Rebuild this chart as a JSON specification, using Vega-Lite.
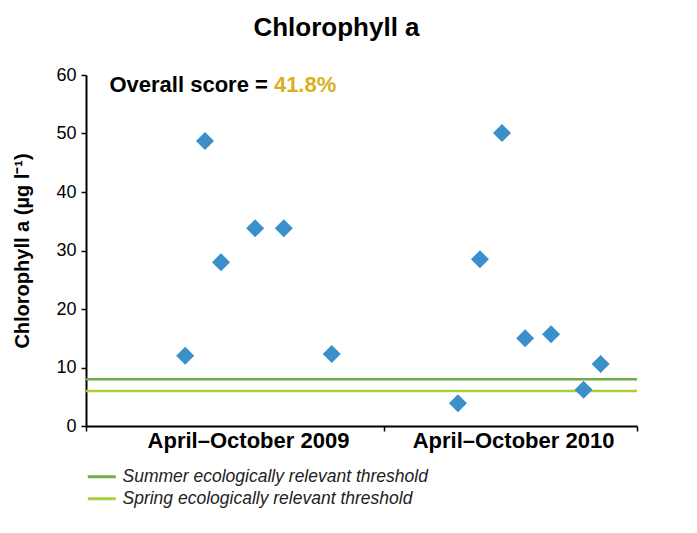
{
  "$schema": "https://vega.github.io/schema/vega-lite/v6.json",
  "width": 551,
  "height": 351,
  "autosize": {"type": "none"},
  "padding": {"left": 86, "top": 75, "right": 60, "bottom": 107},
  "background": "white",
  "config": {"view": {"stroke": null}, "font": "Liberation Sans"},
  "title": {
    "text": "Chlorophyll a",
    "fontSize": 26,
    "fontWeight": "bold",
    "font": "Liberation Sans",
    "color": "black",
    "anchor": "middle",
    "dx": -25,
    "offset": 4,
    "baseline": "alphabetic"
  },
  "datasets": {
    "points": [
      {"period": "April–October 2009", "x": 18.0, "chl": 12.0},
      {"period": "April–October 2009", "x": 21.6, "chl": 48.7},
      {"period": "April–October 2009", "x": 24.5, "chl": 28.0},
      {"period": "April–October 2009", "x": 30.7, "chl": 33.8},
      {"period": "April–October 2009", "x": 35.9, "chl": 33.8},
      {"period": "April–October 2009", "x": 44.6, "chl": 12.3},
      {"period": "April–October 2010", "x": 67.5, "chl": 3.9},
      {"period": "April–October 2010", "x": 71.5, "chl": 28.5},
      {"period": "April–October 2010", "x": 75.5, "chl": 50.1},
      {"period": "April–October 2010", "x": 79.7, "chl": 15.0},
      {"period": "April–October 2010", "x": 84.4, "chl": 15.7},
      {"period": "April–October 2010", "x": 90.3, "chl": 6.2},
      {"period": "April–October 2010", "x": 93.4, "chl": 10.6}
    ],
    "thresholds": [
      {"threshold": "Summer ecologically relevant threshold", "value": 8},
      {"threshold": "Spring ecologically relevant threshold", "value": 6}
    ]
  },
  "layer": [
    {
      "data": {"name": "thresholds"},
      "mark": {"type": "rule", "strokeWidth": 2.5},
      "encoding": {
        "y": {
          "field": "value",
          "type": "quantitative",
          "scale": {"domain": [0, 60], "nice": false},
          "axis": {
            "values": [0, 10, 20, 30, 40, 50, 60],
            "grid": false,
            "domainColor": "black",
            "domainWidth": 2,
            "tickColor": "black",
            "tickSize": 5,
            "tickWidth": 1.5,
            "labelFontSize": 18,
            "labelColor": "black",
            "labelPadding": 5,
            "title": "Chlorophyll a (µg l⁻¹)",
            "titleFontSize": 20,
            "titleFontWeight": "bold",
            "titleColor": "black",
            "titlePadding": 23
          }
        },
        "color": {
          "field": "threshold",
          "type": "nominal",
          "scale": {
            "domain": ["Summer ecologically relevant threshold", "Spring ecologically relevant threshold"],
            "range": ["#70ad47", "#a9d03a"]
          },
          "legend": {
            "orient": "none",
            "legendX": 7,
            "legendY": 393,
            "title": null,
            "direction": "vertical",
            "symbolType": "M-2.5,0H2.5",
            "symbolSize": 125,
            "symbolStrokeWidth": 3,
            "labelFontSize": 17.5,
            "labelFontStyle": "italic",
            "labelColor": "#222222",
            "labelOffset": 12,
            "labelLimit": 500,
            "rowPadding": 3,
            "padding": 0
          }
        }
      }
    },
    {
      "data": {"name": "points"},
      "mark": {"type": "point", "shape": "diamond", "filled": true, "size": 324, "opacity": 1, "color": "#3b8fca"},
      "encoding": {
        "x": {
          "field": "x",
          "type": "quantitative",
          "scale": {"domain": [0, 100], "nice": false},
          "axis": {
            "values": [0, 29.4, 54, 77.5, 100],
            "labelExpr": "datum.value == 29.4 ? 'April–October 2009' : datum.value == 77.5 ? 'April–October 2010' : ''",
            "tickOpacity": {"condition": {"test": "datum.value == 29.4 || datum.value == 77.5", "value": 0}, "value": 1},
            "grid": false,
            "title": null,
            "domainColor": "black",
            "domainWidth": 2,
            "tickColor": "black",
            "tickSize": 5,
            "tickWidth": 1.5,
            "labelFontSize": 22,
            "labelFontWeight": "bold",
            "labelColor": "black",
            "labelBaseline": "alphabetic",
            "labelPadding": 16,
            "labelFlush": false,
            "labelOverlap": false,
            "labelBound": false,
            "labelLimit": 400
          }
        },
        "y": {"field": "chl", "type": "quantitative"}
      }
    },
    {
      "data": {"values": [{"note": "Overall score =", "x": 33.0, "y": 57.1}]},
      "mark": {"type": "text", "align": "right", "baseline": "alphabetic", "fontSize": 22, "fontWeight": "bold", "color": "black"},
      "encoding": {
        "x": {"field": "x", "type": "quantitative"},
        "y": {"field": "y", "type": "quantitative"},
        "text": {"field": "note"}
      }
    },
    {
      "data": {"values": [{"note": "41.8%", "x": 34.1, "y": 57.1}]},
      "mark": {"type": "text", "align": "left", "baseline": "alphabetic", "fontSize": 22, "fontWeight": "bold", "color": "#d8b020"},
      "encoding": {
        "x": {"field": "x", "type": "quantitative"},
        "y": {"field": "y", "type": "quantitative"},
        "text": {"field": "note"}
      }
    }
  ]
}
